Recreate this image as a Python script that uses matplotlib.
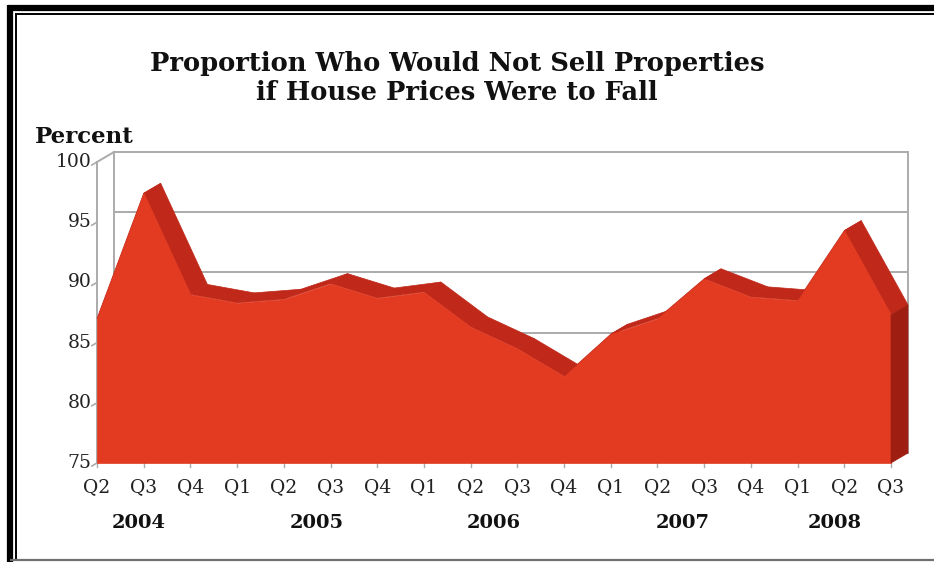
import matplotlib
matplotlib.use("Agg")
import matplotlib.pyplot as plt
from matplotlib.patches import Polygon
import numpy as np

# ---- data ----
quarters = ["Q2", "Q3", "Q4",
            "Q1", "Q2", "Q3", "Q4",
            "Q1", "Q2", "Q3", "Q4",
            "Q1", "Q2", "Q3", "Q4",
            "Q1", "Q2", "Q3"]
values = [87.0, 97.4, 89.0,
          88.3, 88.6, 89.9, 88.7,
          89.2, 86.3, 84.5, 82.2,
          85.7, 87.0, 90.3, 88.8,
          88.5, 94.3, 87.3]
years = ["2004", "2005", "2006", "2007", "2008"]
year_pos = [0.9, 4.7, 8.5, 12.55, 15.8]
y_ticks = [75, 80, 85, 90, 95, 100]

title = "Proportion Who Would Not Sell Properties\nif House Prices Were to Fall"
y_label = "Percent"

# ---- style ----
FRONT = "#E33B22"
TOP = "#C0281A"
SIDE = "#9E1F12"
GRID = "#ABABAB"
SERIF = ["DejaVu Serif"]

W, H = 934, 562
fig = plt.figure(figsize=(W / 100, H / 100), dpi=100)
fig.patch.set_facecolor("white")

# plot area in pixels (front plane)
x0_px, x1_px = 97, 891
ytop_px, ybot_px = 162, 463
ax = fig.add_axes([x0_px / W, 1 - ybot_px / H,
                   (x1_px - x0_px) / W, (ybot_px - ytop_px) / H])
n = len(values)
x = np.arange(n)
ymin, ymax = 75, 100
ax.set_xlim(0, n - 1)
ax.set_ylim(ymin, ymax)
ax.axis("off")

# depth offset of the 3-D look, in data units
DX = 17 / (x1_px - x0_px) * (n - 1)
DY = 10 / (ybot_px - ytop_px) * (ymax - ymin)

# back wall gridlines and edges
for yv in y_ticks:
    ax.plot([DX, n - 1 + DX], [yv + DY, yv + DY], color=GRID, lw=1.4,
            clip_on=False, zorder=1)
ax.plot([DX, DX], [ymin + DY, ymax + DY], color=GRID, lw=1.4, clip_on=False, zorder=1)
ax.plot([n - 1 + DX, n - 1 + DX], [ymin + DY, ymax + DY], color=GRID, lw=1.4,
        clip_on=False, zorder=1)
# left wall: front axis line, top connector
ax.plot([0, 0], [ymin, ymax], color=GRID, lw=1.4, clip_on=False, zorder=1)
ax.plot([0, DX], [ymax, ymax + DY], color=GRID, lw=1.4, clip_on=False, zorder=1)
# y ticks (slanted, along depth direction)
for yv in y_ticks:
    ax.plot([0, -0.3 * DX], [yv, yv - 0.3 * DY], color=GRID, lw=1.2,
            clip_on=False, zorder=1)
    ax.text(-0.12, yv, str(yv), ha="right", va="center", fontsize=13.5,
            family=SERIF, color="#222222")
# x ticks
for xi in x:
    ax.plot([xi, xi], [ymin, ymin - 0.35], color=GRID, lw=1.0, clip_on=False, zorder=1)

# top strips of the ribbon
for i in range(n - 1):
    poly = [(x[i], values[i]), (x[i + 1], values[i + 1]),
            (x[i + 1] + DX, values[i + 1] + DY), (x[i] + DX, values[i] + DY)]
    ax.add_patch(Polygon(poly, closed=True, facecolor=TOP, edgecolor=TOP,
                         lw=0.5, clip_on=False, zorder=2))

# front face
ax.fill_between(x, ymin, values, facecolor=FRONT, edgecolor=FRONT, lw=0.5,
                clip_on=False, zorder=3)

# right end face
xe, ve = x[-1], values[-1]
ax.add_patch(Polygon([(xe, ymin), (xe, ve), (xe + DX, ve + DY), (xe + DX, ymin + DY)],
                     closed=True, facecolor=SIDE, edgecolor=SIDE, lw=0.5,
                     clip_on=False, zorder=3))

# category labels
for xi, q in zip(x, quarters):
    ax.text(xi, ymin - 2.0, q, ha="center", va="center", fontsize=13.5,
            family=SERIF, color="#222222")
for xp, yr in zip(year_pos, years):
    ax.text(xp, ymin - 5.0, yr, ha="center", va="center", fontsize=14,
            family=SERIF, fontweight="bold", color="#111111")

# titles
fig.text(457 / W, 1 - 78 / H, title, ha="center", va="center", fontsize=18.5,
         family=SERIF, fontweight="bold", linespacing=1.2, color="#111111")
fig.text(35 / W, 1 - 137 / H, y_label, ha="left", va="center", fontsize=16.5,
         family=SERIF, fontweight="bold", color="#111111")

# frame around the figure
ov = fig.add_axes([0, 0, 1, 1], zorder=-1)
ov.set_xlim(0, W)
ov.set_ylim(H, 0)
ov.axis("off")
ov.plot([10, 10], [5, 562], color="black", lw=4.5, solid_capstyle="butt")
ov.plot([7.5, 934], [8, 8], color="black", lw=4.5, solid_capstyle="butt")
ov.plot([15.5, 15.5], [12.5, 559], color="black", lw=1.4, solid_capstyle="butt")
ov.plot([15, 934], [13.5, 13.5], color="black", lw=1.4, solid_capstyle="butt")
ov.plot([10, 934], [559.5, 559.5], color="#707070", lw=1.6, solid_capstyle="butt")

fig.savefig("out.png", dpi=100, facecolor="white")
